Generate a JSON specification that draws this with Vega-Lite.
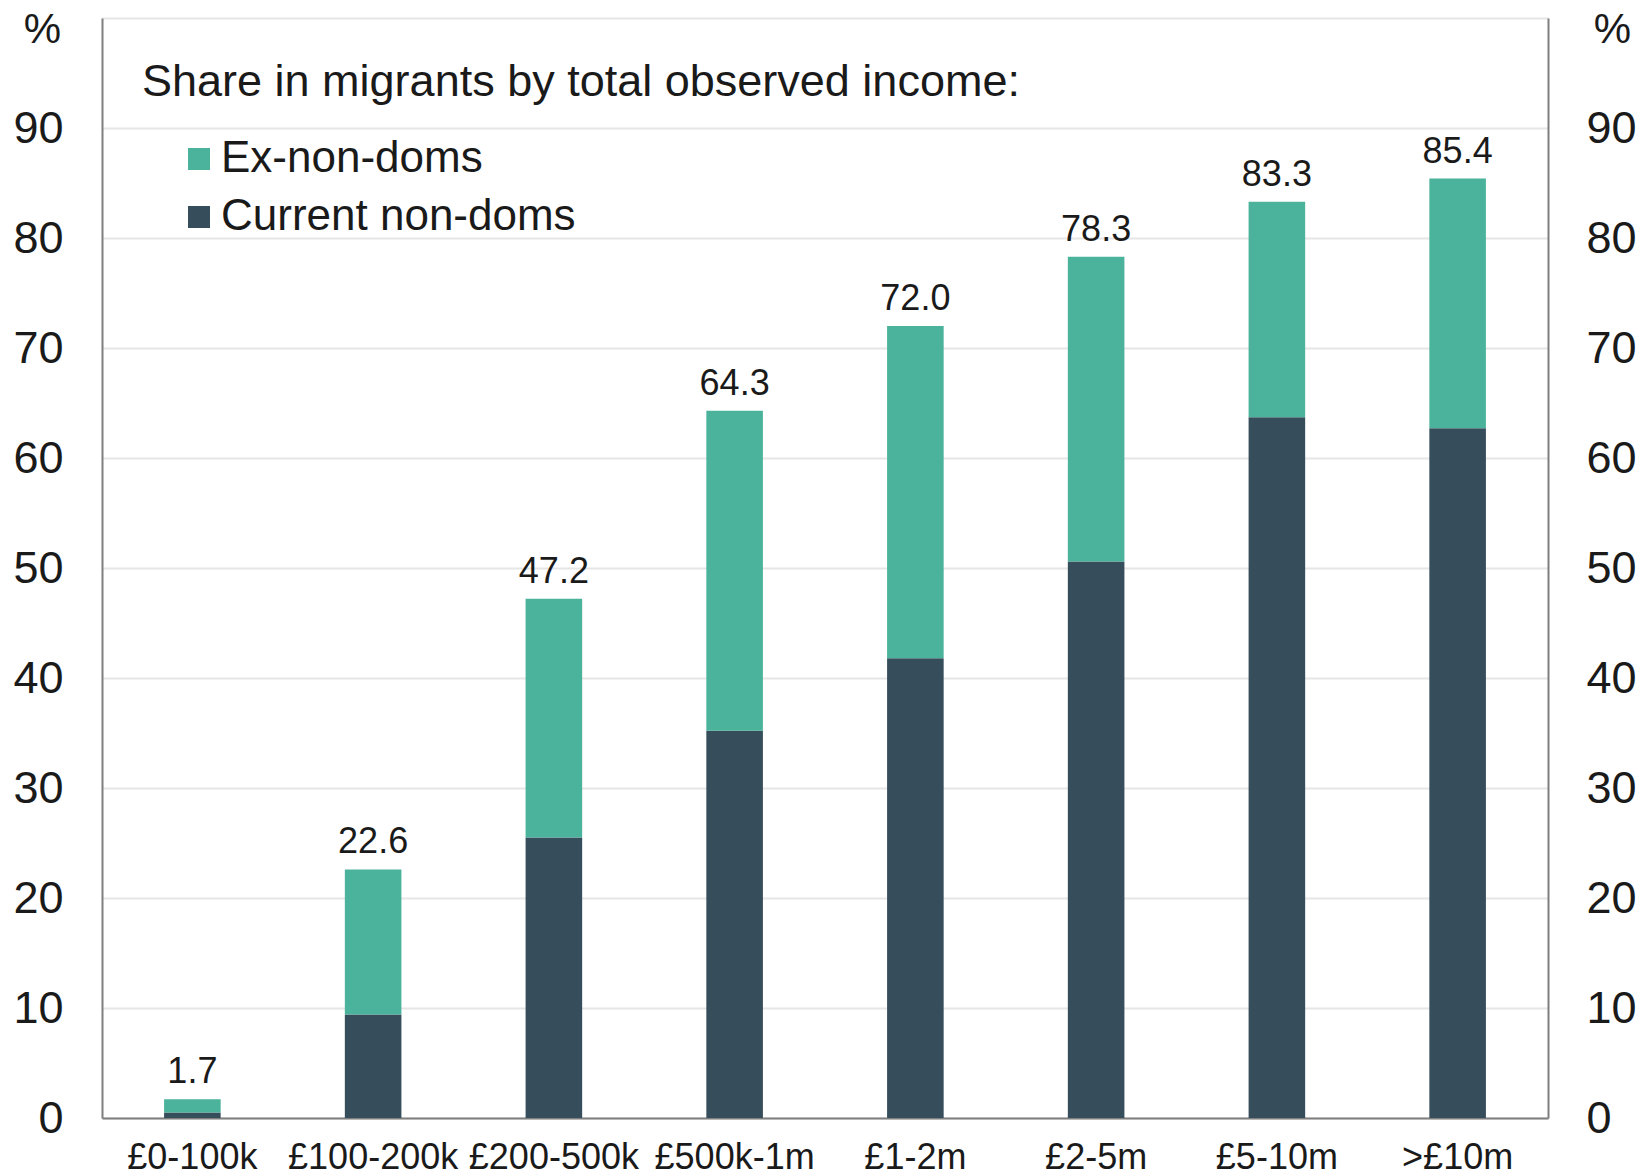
{
  "$schema": "https://vega.github.io/schema/vega-lite/v6.json",
  "width": 1446,
  "height": 1100,
  "autosize": {"type": "none"},
  "padding": {"left": 102, "top": 18, "right": 94, "bottom": 58},
  "background": "white",
  "config": {"view": {"stroke": null}, "font": "Liberation Sans"},
  "data": {
    "values": [
      {"band": "£0-100k", "group": "Current non-doms", "share": 0.5},
      {"band": "£0-100k", "group": "Ex-non-doms", "share": 1.2},
      {"band": "£100-200k", "group": "Current non-doms", "share": 9.4},
      {"band": "£100-200k", "group": "Ex-non-doms", "share": 13.2},
      {"band": "£200-500k", "group": "Current non-doms", "share": 25.5},
      {"band": "£200-500k", "group": "Ex-non-doms", "share": 21.7},
      {"band": "£500k-1m", "group": "Current non-doms", "share": 35.2},
      {"band": "£500k-1m", "group": "Ex-non-doms", "share": 29.1},
      {"band": "£1-2m", "group": "Current non-doms", "share": 41.8},
      {"band": "£1-2m", "group": "Ex-non-doms", "share": 30.2},
      {"band": "£2-5m", "group": "Current non-doms", "share": 50.6},
      {"band": "£2-5m", "group": "Ex-non-doms", "share": 27.7},
      {"band": "£5-10m", "group": "Current non-doms", "share": 63.7},
      {"band": "£5-10m", "group": "Ex-non-doms", "share": 19.6},
      {"band": ">£10m", "group": "Current non-doms", "share": 62.7},
      {"band": ">£10m", "group": "Ex-non-doms", "share": 22.7}
    ]
  },
  "layer": [
    {
      "mark": {"type": "bar"},
      "encoding": {
        "x": {
          "field": "band", "type": "nominal",
          "sort": ["£0-100k", "£100-200k", "£200-500k", "£500k-1m", "£1-2m", "£2-5m", "£5-10m", ">£10m"],
          "scale": {"paddingInner": 0.687, "paddingOuter": 0.3435},
          "axis": {"title": null, "ticks": false, "grid": false, "domainColor": "#7f7f7f", "domainWidth": 2, "labelFontSize": 36, "labelPadding": 22, "labelAngle": 0, "labelColor": "#1a1a1a"}
        },
        "y": {
          "field": "share", "type": "quantitative", "stack": "zero",
          "scale": {"domain": [0, 100], "nice": false},
          "axis": {
            "orient": "left", "values": [0, 10, 20, 30, 40, 50, 60, 70, 80, 90, 100],
            "labelExpr": "datum.value == 100 ? '' : datum.label",
            "grid": true, "gridColor": "#e6e6e6", "gridWidth": 2, "ticks": false,
            "domain": true, "domainColor": "#7f7f7f", "domainWidth": 2,
            "labelFontSize": 45, "labelColor": "#1a1a1a", "labelPadding": 39,
            "title": "%", "titleAngle": 0, "titleX": -60, "titleY": 11, "titleAlign": "center", "titleBaseline": "middle",
            "titleFontSize": 42, "titleFontWeight": "normal", "titleColor": "#1a1a1a"
          }
        },
        "color": {
          "field": "group", "type": "nominal",
          "scale": {"domain": ["Ex-non-doms", "Current non-doms"], "range": ["#4bb29b", "#364d5b"]},
          "legend": {
            "orient": "none", "legendX": 40, "legendY": 42,
            "title": "Share in migrants by total observed income:",
            "titleFontSize": 45, "titleFontWeight": "normal", "titleColor": "#1a1a1a", "titleLimit": 2000, "titlePadding": 32,
            "symbolType": "square", "symbolSize": 484, "symbolStrokeWidth": 0, "symbolOffset": 35, "labelOffset": 0,
            "labelFontSize": 44, "labelColor": "#1a1a1a", "labelLimit": 1000, "rowPadding": 14, "padding": 0
          }
        },
        "order": {"field": "group", "type": "nominal", "sort": "ascending"}
      }
    },
    {
      "transform": [{"aggregate": [{"op": "sum", "field": "share", "as": "total"}], "groupby": ["band"]}],
      "mark": {"type": "text", "baseline": "bottom", "dy": -8, "fontSize": 36, "color": "#1a1a1a"},
      "encoding": {
        "x": {"field": "band", "type": "nominal", "sort": ["£0-100k", "£100-200k", "£200-500k", "£500k-1m", "£1-2m", "£2-5m", "£5-10m", ">£10m"]},
        "y": {
          "field": "total", "type": "quantitative",
          "scale": {"domain": [0, 100], "nice": false},
          "axis": {
            "orient": "right", "values": [0, 10, 20, 30, 40, 50, 60, 70, 80, 90],
            "grid": false, "ticks": false, "domain": true, "domainColor": "#7f7f7f", "domainWidth": 2,
            "labelFontSize": 45, "labelColor": "#1a1a1a", "labelPadding": 38,
            "title": "%", "titleAngle": 0, "titleX": 64, "titleY": 11, "titleAlign": "center", "titleBaseline": "middle",
            "titleFontSize": 42, "titleFontWeight": "normal", "titleColor": "#1a1a1a"
          }
        },
        "text": {"field": "total", "type": "quantitative", "format": ".1f"}
      }
    }
  ],
  "resolve": {"axis": {"y": "independent"}}
}
